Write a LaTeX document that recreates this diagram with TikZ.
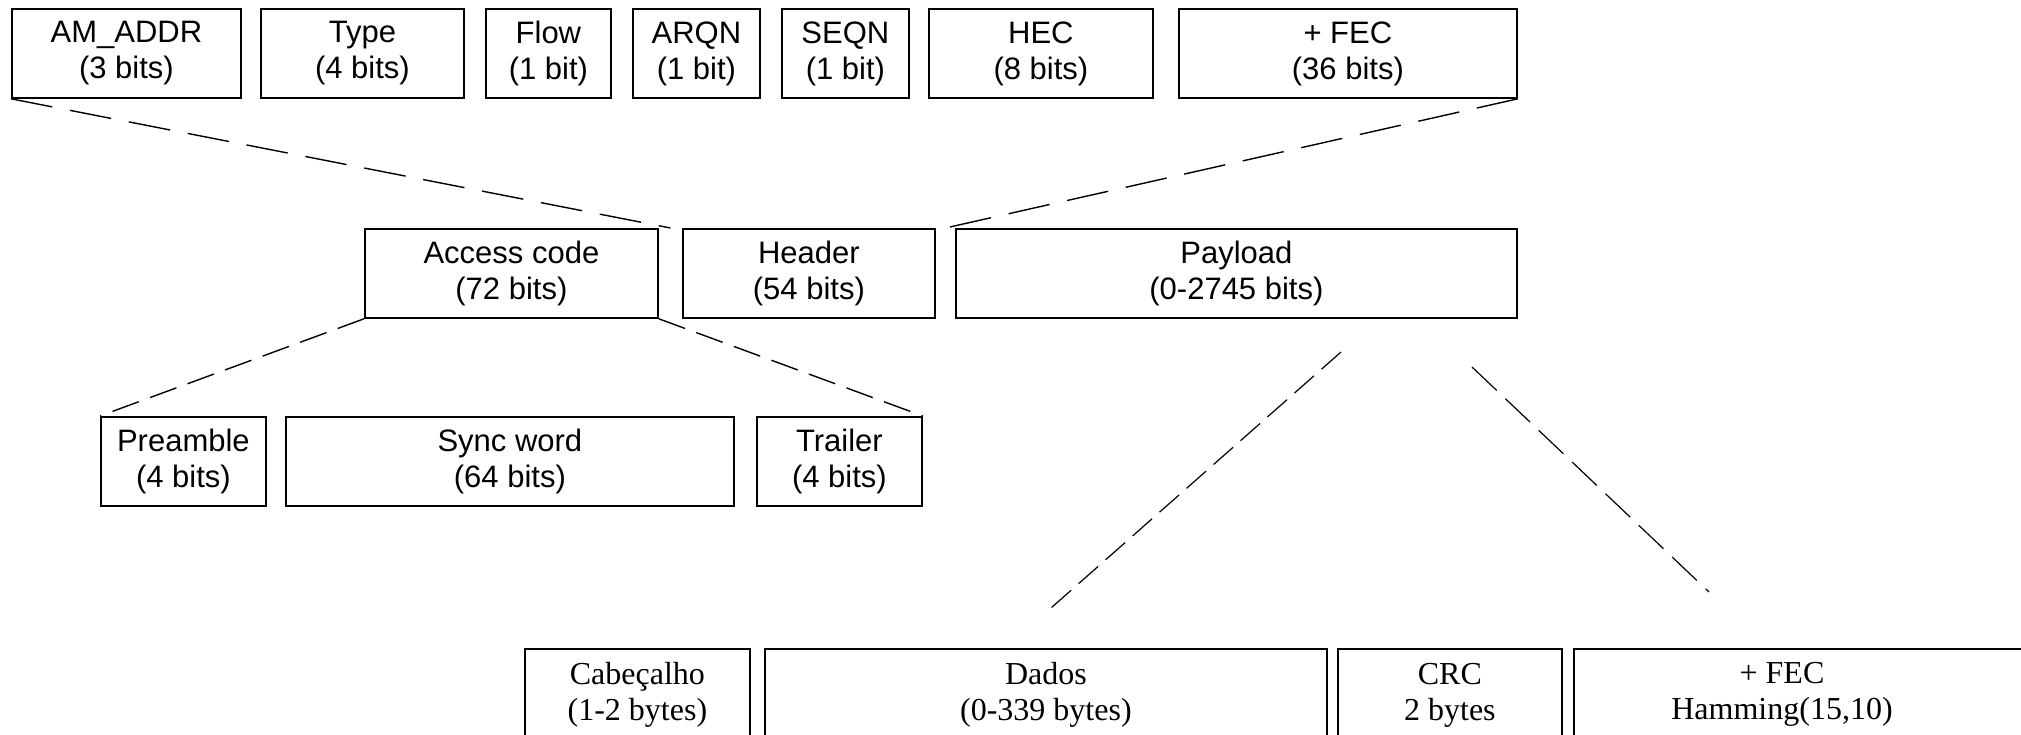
\documentclass[tikz,border=0pt]{standalone}
\usepackage{fontspec}
\usetikzlibrary{calc}
\newfontfamily\sansf{Liberation Sans}
\newfontfamily\seriff{Liberation Serif}
\begin{document}
\begin{tikzpicture}[x=1pt,y=-1pt,
  box/.style={draw, line width=1.8pt, anchor=north west, inner sep=0pt, align=center,
              minimum height=89pt, font=\sansf\fontsize{31}{36}\selectfont},
  sbox/.style={box, minimum height=92pt, font=\seriff\fontsize{32}{36}\selectfont},
  stext/.style={inner sep=0pt, align=center, font=\seriff\fontsize{32}{36}\selectfont},
  linkA/.style={line width=1.4pt, dash pattern=on 42pt off 18pt},
  linkB/.style={line width=1.4pt, dash pattern=on 28pt off 12pt},
  linkC/.style={line width=1.2pt, dash pattern=on 26pt off 10pt},
  linkD/.style={line width=1.2pt, dash pattern=on 34pt off 12pt},
]
\useasboundingbox (0,0) rectangle (2021,735);
\fill[white] (0,0) rectangle (2021,735);

% top row
\node[box, minimum width=229pt] (amaddr) at (11,8) {AM\_ADDR\\(3 bits)};
\node[box, minimum width=203pt] (type) at (260,8) {Type\\(4 bits)};
\node[box, minimum width=125pt] (flow) at (485,8) {Flow\\(1 bit)};
\node[box, minimum width=127pt] (arqn) at (632,8) {ARQN\\(1 bit)};
\node[box, minimum width=127pt] (seqn) at (781,8) {SEQN\\(1 bit)};
\node[box, minimum width=224pt] (hec) at (928,8) {HEC\\(8 bits)};
\node[box, minimum width=338pt] (fec) at (1178,8) {+ FEC\\(36 bits)};

% middle row
\node[box, minimum width=293pt] (access) at (364,228) {Access code\\(72 bits)};
\node[box, minimum width=252pt] (header) at (682,228) {Header\\(54 bits)};
\node[box, minimum width=561pt] (payload) at (955,228) {Payload\\(0-2745 bits)};

% access code row
\node[box, minimum width=165pt] (preamble) at (100,416) {Preamble\\(4 bits)};
\node[box, minimum width=448pt] (sync) at (285,416) {Sync word\\(64 bits)};
\node[box, minimum width=165pt] (trailer) at (756,416) {Trailer\\(4 bits)};

% payload row
\node[sbox, minimum width=225pt] (cab) at (524,648) {Cabeçalho\\(1-2 bytes)};
\node[sbox, minimum width=562pt] (dados) at (764,648) {Dados\\(0-339 bytes)};
\node[sbox, minimum width=224pt] (crc) at (1337,648) {CRC\\2 bytes};
\node[sbox, minimum width=462pt] (ham) at (1573,648) {};
\node[stext] (hamtxt) at (1782,694) {+ FEC\\Hamming(15,10)};

% connectors
\coordinate (hdrL) at ($(access.north east)!0.5!(header.north west)$);
\coordinate (hdrR) at ($(header.north east)!0.5!(payload.north west)$);
\draw[linkA] (amaddr.south west) -- (hdrL);
\draw[linkA] (fec.south east) -- (hdrR);
\draw[linkB] (access.south west) -- (preamble.north west);
\draw[linkB] (access.south east) -- (trailer.north east);
\coordinate (pa1) at (1341,352);
\coordinate (pa2) at (1051,608);
\coordinate (pb1) at (1472,367);
\coordinate (pb2) at (1709,592);
\draw[linkC] (pa1) -- (pa2);
\draw[linkD] (pb1) -- (pb2);
\end{tikzpicture}
\end{document}
